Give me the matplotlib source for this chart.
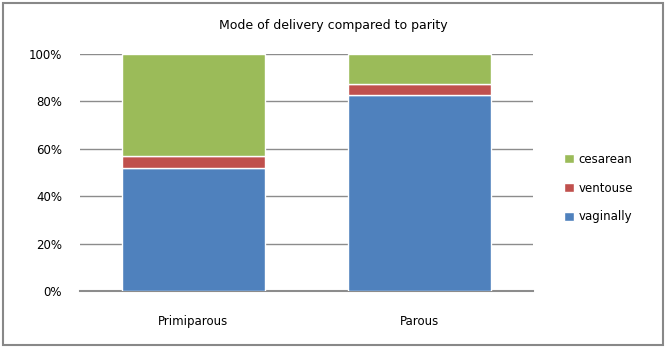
import matplotlib
matplotlib.use("Agg")
import matplotlib.pyplot as plt
from matplotlib.patches import Rectangle
from matplotlib.ticker import PercentFormatter

categories = ["Primiparous", "Parous"]
vaginally = [51.8, 82.6]
ventouse = [5.2, 4.7]
cesarean = [43.0, 12.7]
series_names = ["vaginally", "ventouse", "cesarean"]
colors = ["#4F81BD", "#C0504D", "#9BBB59"]

W, H = 667, 351
fig = plt.figure(figsize=(W / 100, H / 100), dpi=100)
fig.patch.set_facecolor("white")
fig.add_artist(Rectangle((3 / W, 6 / H), 660 / W, 342 / H, transform=fig.transFigure,
                         fill=False, edgecolor="#888888", linewidth=1.5))

ax = fig.add_axes([80 / W, 1 - 291 / H, 453 / W, 237 / H])
x = range(len(categories))
bottom = [0, 0]
for name, vals, c in zip(series_names, [vaginally, ventouse, cesarean], colors):
    ax.bar(x, vals, bottom=bottom, width=0.63, color=c, edgecolor="white",
           linewidth=1.0, label=name, zorder=3)
    bottom = [b + v for b, v in zip(bottom, vals)]

ax.set_xlim(-0.5, 1.5)
ax.set_ylim(0, 100)
ax.set_yticks([0, 20, 40, 60, 80, 100])
ax.yaxis.set_major_formatter(PercentFormatter(decimals=0))
ax.set_xticks(list(x))
ax.set_xticklabels(categories)
ax.grid(axis="y", color="#8c8c8c", linewidth=1.0, zorder=0)
for s in ["top", "right", "left"]:
    ax.spines[s].set_visible(False)
ax.spines["bottom"].set_color("#8c8c8c")
ax.spines["bottom"].set_linewidth(1.5)
ax.tick_params(axis="both", length=0, labelsize=8.5, colors="black")
ax.tick_params(axis="y", pad=13)
ax.tick_params(axis="x", pad=17)

fig.text(333 / W, 1 - 26 / H, "Mode of delivery compared to parity",
         ha="center", va="center", fontsize=9)

handles, labels = ax.get_legend_handles_labels()
fig.legend(handles[::-1], labels[::-1], loc="center left",
           bbox_to_anchor=(553 / W, 1 - 188 / H), frameon=False, fontsize=8.5,
           handlelength=0.85, handleheight=0.85, labelspacing=1.35, handletextpad=0.4)

fig.savefig("out.png", dpi=100, facecolor="white")
